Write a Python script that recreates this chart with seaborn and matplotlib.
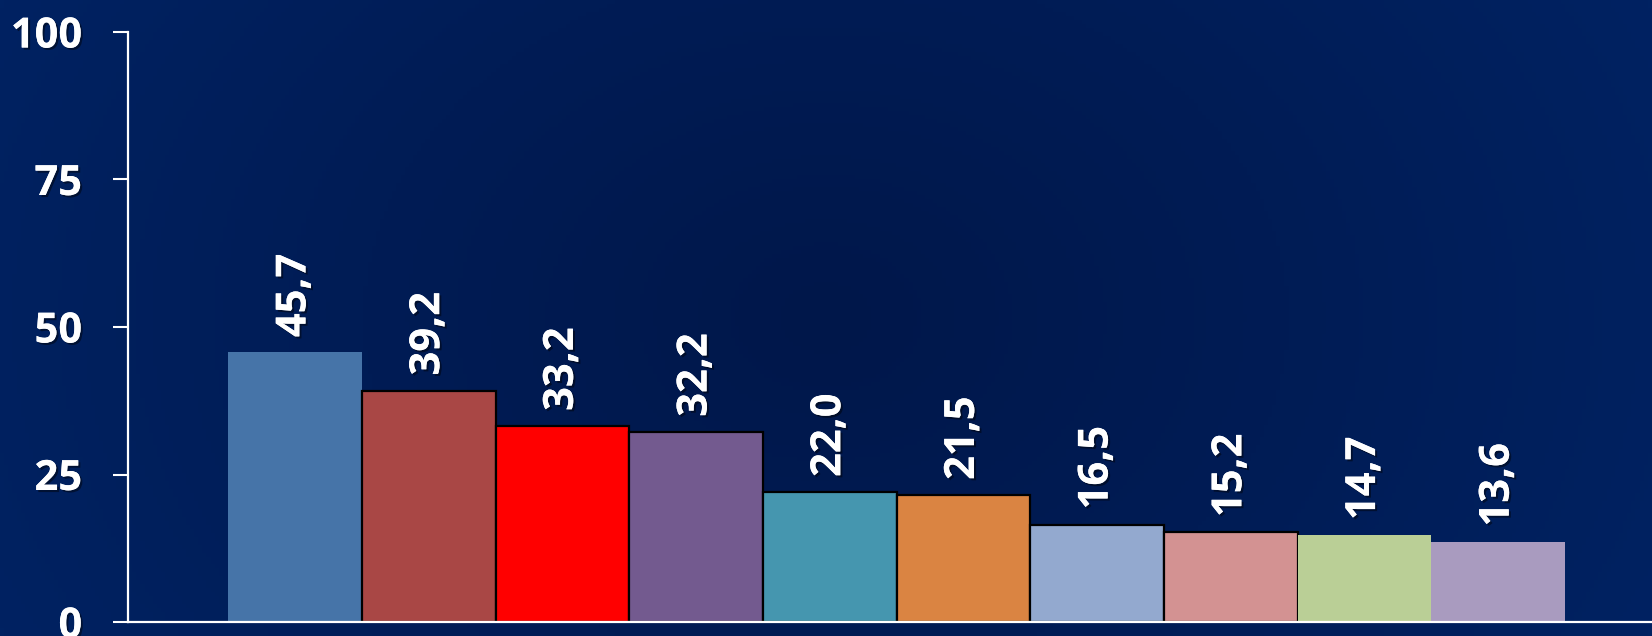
import numpy as np
import matplotlib
matplotlib.use("Agg")
import matplotlib.pyplot as plt
import matplotlib.patheffects as pe
from matplotlib.colors import LinearSegmentedColormap
import seaborn as sns

# data
categories = ["A", "B", "C", "D", "E", "F", "G", "H", "I", "J"]
values = [45.7, 39.2, 33.2, 32.2, 22.0, 21.5, 16.5, 15.2, 14.7, 13.6]
bar_colors = ["#4674A8", "#A94745", "#FF0000", "#735A8F", "#4596AF",
              "#DA8442", "#93A9CF", "#D39292", "#BACF96", "#A99BBF"]
has_edge = [False, True, True, True, True, True, True, True, False, False]
y_ticks = [0, 25, 50, 75, 100]

sns.set_style("white")
plt.rcParams["font.family"] = ["Open Sans", "DejaVu Sans"]

fig = plt.figure(figsize=(16.52, 6.36), dpi=100)

# radial gradient background
bg = fig.add_axes([0, 0, 1, 1], zorder=-10)
xx, yy = np.meshgrid(np.linspace(0, 1, 400), np.linspace(0, 1, 160))
r = np.sqrt(((xx - 0.5) * 1.6) ** 2 + ((yy - 0.5) * 0.8) ** 2)
r = np.clip(r / r.max(), 0, 1)
cmap = LinearSegmentedColormap.from_list("bg", ["#00174A", "#001C55", "#002262"])
bg.imshow(r, cmap=cmap, aspect="auto", extent=[0, 1, 0, 1], origin="lower")
bg.axis("off")

ax = fig.add_axes([0.0775, 0.022, 0.9225, 0.9277])
ax.set_facecolor("none")

sns.barplot(x=categories, y=values, hue=categories, palette=bar_colors,
            legend=False, width=1.0, saturation=1, ax=ax)

for patch, edge in zip(ax.patches, has_edge):
    if edge:
        patch.set_edgecolor("black")
        patch.set_linewidth(1.6)
    else:
        patch.set_linewidth(0)

shadow = [pe.withSimplePatchShadow(offset=(1.5, -1.5), shadow_rgbFace="black", alpha=0.45),
          pe.Normal()]

for i, v in enumerate(values):
    ax.annotate(f"{v:.1f}".replace(".", ","), xy=(i, v), xytext=(0, 11),
                textcoords="offset points", rotation=90, ha="center", va="bottom",
                color="white", fontsize=30, fontweight="bold", path_effects=shadow)

ax.set_xlim(-1.249, 10.15)
ax.set_ylim(0, 100)
ax.set_yticks(y_ticks)
ax.set_yticklabels([str(t) for t in y_ticks], fontsize=30, fontweight="bold",
                   color="white")
for lbl in ax.get_yticklabels():
    lbl.set_path_effects(shadow)
ax.set_xticks([])
ax.tick_params(axis="y", length=11, width=1.5, color="white", pad=22, left=True)
ax.set_xlabel("")
ax.set_ylabel("")

sns.despine(ax=ax, top=True, right=True)
for side in ["left", "bottom"]:
    ax.spines[side].set_color("white")
    ax.spines[side].set_linewidth(1.6)
    ax.spines[side].set_zorder(5)

fig.savefig("out.png", dpi=100)
